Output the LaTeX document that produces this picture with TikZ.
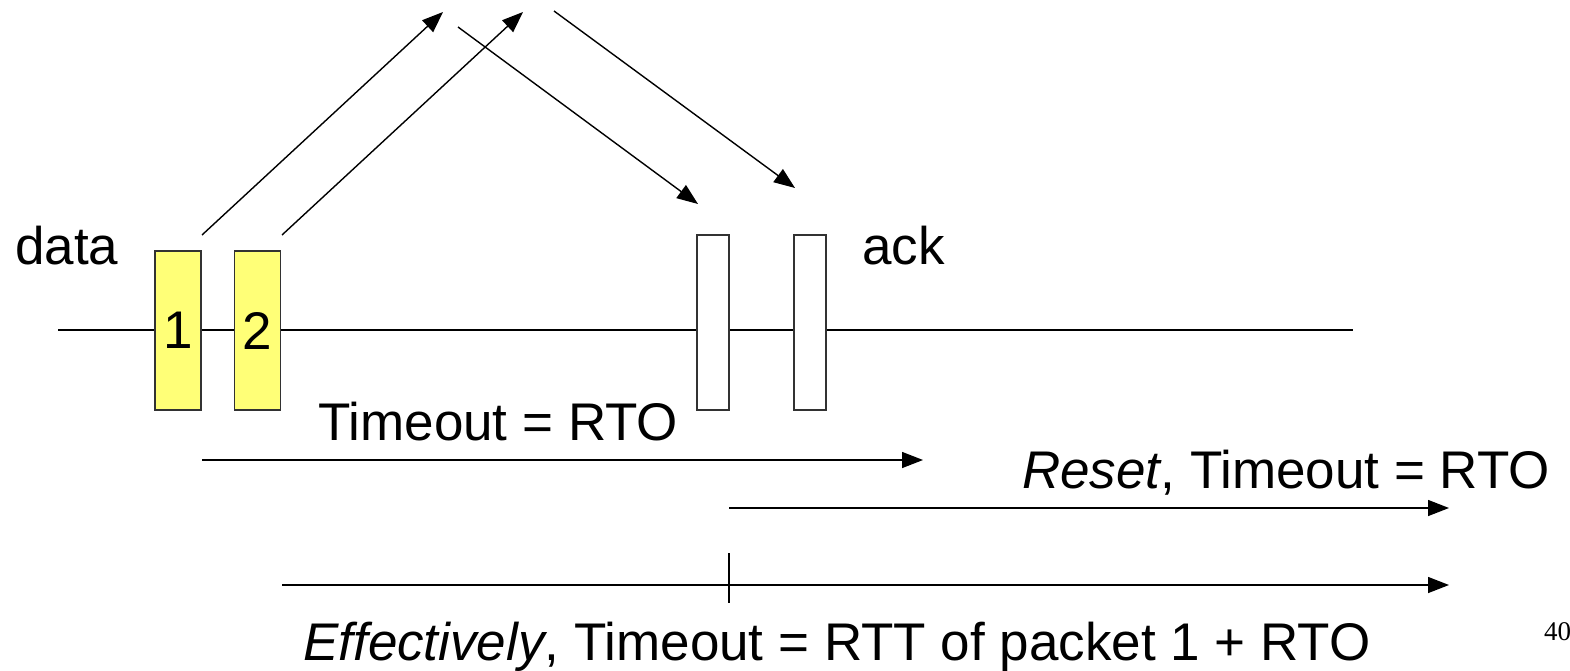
\documentclass[tikz,border=0pt]{standalone}
\usepackage{fontspec}
\setmainfont{Liberation Sans}
\newfontfamily\pagefont{Liberation Serif}
\usetikzlibrary{arrows.meta}
\definecolor{pktyellow}{RGB}{255,255,119}
\definecolor{boxedge}{RGB}{50,50,50}
\tikzset{
  lbl/.style={inner sep=0pt, anchor=base west, font=\fontsize{53}{60}\selectfont},
  pkt/.style={draw=boxedge, line width=1.4pt, fill=pktyellow, minimum width=46pt, minimum height=159pt, inner sep=0pt, font=\fontsize{53}{60}\selectfont},
  ackbox/.style={draw=boxedge, line width=1.4pt, fill=white, minimum width=32pt, minimum height=175pt, inner sep=0pt},
  msg/.style={line width=1.4pt, -{Triangle[length=21pt,width=16pt]}},
  plain/.style={line width=1.4pt}
}
\begin{document}
\begin{tikzpicture}[x=1pt,y=-1pt]
\useasboundingbox (0,0) rectangle (1570,671);

% time line
\coordinate (tl0) at (58,330);
\coordinate (tl1) at (1353,330);
\draw[plain] (tl0) -- (tl1);

% data packets and acks
\node[pkt] (p1) at (178,330.5) {1};
\node[pkt] (p2) at (257.5,330.5) {2};
\node[ackbox] (a1) at (713,322.5) {};
\node[ackbox] (a2) at (810,322.5) {};

\node[lbl] (data) at (15,264) {data};
\node[lbl] (ack) at (862,264) {ack};

% packets going out, acks coming back
\coordinate (s1) at (202,235);
\coordinate (e1) at (443,12);
\coordinate (s2) at (282,235);
\coordinate (e2) at (523,12);
\coordinate (s3) at (458,27);
\coordinate (e3) at (698,204);
\coordinate (s4) at (554,11);
\coordinate (e4) at (795,188);
\draw[msg] (s1) -- (e1);
\draw[msg] (s2) -- (e2);
\draw[msg] (s3) -- (e3);
\draw[msg] (s4) -- (e4);

% timers
\node[lbl] (t1) at (318,440) {Timeout = RTO};
\coordinate (r1s) at (202,460);
\coordinate (r1e) at (923,460);
\draw[msg] (r1s) -- (r1e);

\node[lbl] (t2) at (1022,488) {\textit{Reset}, Timeout = RTO};
\coordinate (r2s) at (729,508);
\coordinate (r2e) at (1449,508);
\draw[msg] (r2s) -- (r2e);

\coordinate (r3s) at (282,585);
\coordinate (r3e) at (1449,585);
\coordinate (r3m) at (858,585);
\coordinate (tkt) at (729,553);
\coordinate (tkb) at (729,603);
\coordinate (tkm) at (729,585);
\draw[msg] (r3s) -- (r3e);
\draw[line width=2.2pt] (tkm) -- (r3m);
\draw[plain] (tkt) -- (tkb);
\node[lbl] (t3) at (303,660) {\textit{Effectively}, Timeout = RTT of packet 1 + RTO};

% page number, running off the right edge
\node[inner sep=0pt, anchor=base west, font=\pagefont\fontsize{27}{30}\selectfont] (pg) at (1544,640) {40};
\end{tikzpicture}
\end{document}
